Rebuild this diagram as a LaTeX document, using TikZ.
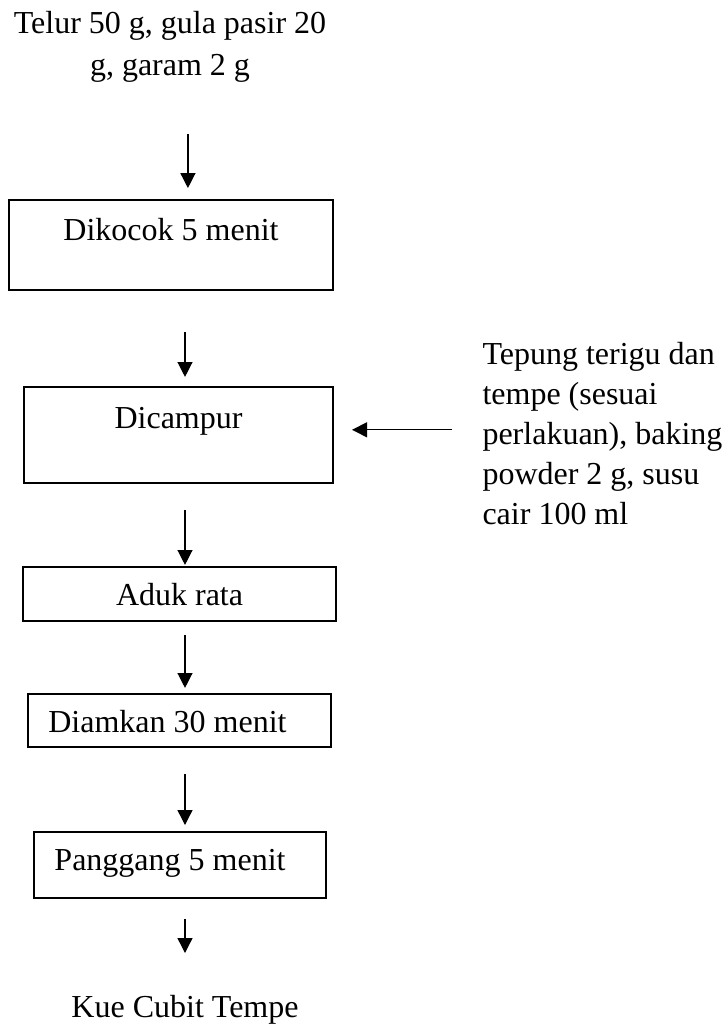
\documentclass[tikz,border=0pt]{standalone}
\usepackage{fontspec}
\setmainfont{Liberation Serif}
\usepackage{tikz}
\usetikzlibrary{arrows.meta}

\begin{document}
\begin{tikzpicture}[
    x=0.375pt, y=-0.375pt,
    font=\fontsize{12}{15}\selectfont,
    stepbox/.style={draw, line width=0.75pt, inner sep=0pt, anchor=north west},
    txt/.style={inner sep=0pt, align=left},
    arr/.style={-{Triangle[length=5.6pt,width=5.6pt]}, line width=0.5pt}
  ]
  \useasboundingbox (0,0) rectangle (726,1024);
  % input at the top
  \node[txt, align=center, anchor=north, font=\fontsize{12}{15.75}\selectfont] (bahan) at (170,11)
    {Telur 50 g, gula pasir 20\\g, garam 2 g};
  % process steps
  \node[stepbox, minimum width=121.5pt, text height=15pt, text depth=18.75pt] (kocok) at (8,199) {Dikocok 5 menit};
  \node[stepbox, minimum width=115.9pt, text height=15.4pt, text depth=20.6pt] (campur) at (23,386) {Dicampur};
  \node[stepbox, minimum width=117.4pt, text height=14.6pt, text depth=5.6pt] (aduk) at (22,566) {Aduk rata};
  \node[stepbox, minimum width=113.6pt, text height=14.6pt, text depth=5.25pt] (diam) at (27,693) {Diamkan 30 menit\kern9pt};
  \node[stepbox, minimum width=109.5pt, text height=14.6pt, text depth=10.1pt] (panggang) at (33,831) {Panggang 5 menit\kern7.5pt};
  % side input and result
  \node[txt, anchor=north west] (tepung) at (482,342)
    {Tepung terigu dan\\tempe (sesuai\\perlakuan), baking\\powder 2 g, susu\\cair 100 ml};
  \node[txt, anchor=north] (kue) at (185,995) {Kue Cubit Tempe};
  \coordinate (axis) at (185,0);
  % arrows
  \draw[arr, shorten <=19.1pt, shorten >=4.1pt] ([xshift=1.1pt]bahan.south -| axis) -- ([xshift=1.1pt]kocok.north -| axis);
  \draw[arr, shorten <=15.4pt, shorten >=3.4pt] (kocok.south -| axis) -- (campur.north -| axis);
  \draw[arr, shorten <=9.75pt, shorten >=0.4pt] (campur.south -| axis) -- (aduk.north -| axis);
  \draw[arr, shorten <=4.9pt, shorten >=1.9pt] (aduk.south -| axis) -- (diam.north -| axis);
  \draw[arr, shorten <=9.75pt, shorten >=2.25pt] (diam.south -| axis) -- (panggang.north -| axis);
  \draw[arr, shorten <=7.5pt, shorten >=15.75pt] (panggang.south -| axis) -- (kue.north -| axis);
  \draw[arr, shorten <=11.25pt, shorten >=6.75pt] ([yshift=1.5pt]tepung.west) -- ([yshift=1.5pt]tepung.west -| campur.east);
\end{tikzpicture}
\end{document}
